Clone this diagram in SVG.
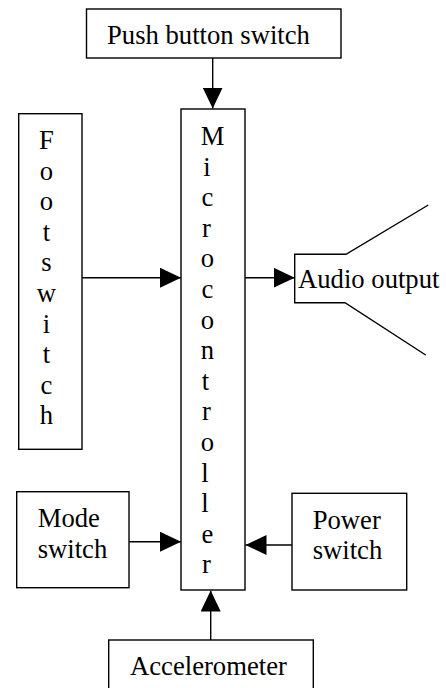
<svg xmlns="http://www.w3.org/2000/svg" width="446" height="688" viewBox="0 0 446 688">
<style>
.box{fill:#fff;stroke:#000;stroke-width:1.4}
.t{font-family:"Liberation Serif","Times New Roman",serif;font-size:26.67px;fill:#000}
.c{stroke:#000;stroke-width:1.4;fill:none}
</style>
<defs>
<marker id="ah" markerUnits="userSpaceOnUse" markerWidth="21" markerHeight="20" refX="21" refY="10" orient="auto">
<path d="M0,0 L21,10 L0,20 Z" fill="#000"/>
</marker>
</defs>
<rect width="446" height="688" fill="#fff"/>
<g id="push-button">
<rect class="box" x="86.5" y="9" width="254.5" height="49"/>
<text class="t" x="107" y="44">Push button switch</text>
</g>
<g id="foot-switch">
<rect class="box" x="18.7" y="113.7" width="63.3" height="335.6"/>
<text class="t" text-anchor="middle" x="46.5">
<tspan x="46.5" y="149">F</tspan><tspan x="46.5" y="179.6">o</tspan><tspan x="46.5" y="210.2">o</tspan><tspan x="46.5" y="240.8">t</tspan><tspan x="46.5" y="271.4">s</tspan><tspan x="46.5" y="302">w</tspan><tspan x="46.5" y="332.6">i</tspan><tspan x="46.5" y="363.2">t</tspan><tspan x="46.5" y="393.8">c</tspan><tspan x="46.5" y="424.4">h</tspan>
</text>
</g>
<g id="microcontroller">
<rect class="box" x="181" y="109" width="64" height="481"/>
<text class="t" text-anchor="middle">
<tspan x="212.5" y="145">M</tspan><tspan x="207" y="175.6">i</tspan><tspan x="207.5" y="206.2">c</tspan><tspan x="206.5" y="236.8">r</tspan><tspan x="207.5" y="267.4">o</tspan><tspan x="207.5" y="298">c</tspan><tspan x="207.5" y="328.6">o</tspan><tspan x="207.5" y="359.2">n</tspan><tspan x="205.5" y="389.8">t</tspan><tspan x="206.5" y="420.4">r</tspan><tspan x="207.5" y="451">o</tspan><tspan x="205" y="481.6">l</tspan><tspan x="205" y="512.2">l</tspan><tspan x="207.5" y="542.8">e</tspan><tspan x="206.5" y="573.4">r</tspan>
</text>
</g>
<g id="audio-output">
<path class="c" d="M428.3,205 L346,254.3 L294.7,254.3 L294.7,302.7 L345,302.7 L425.7,355"/>
<text class="t" x="298" y="288.3">Audio output</text>
</g>
<g id="mode-switch">
<rect class="box" x="16.7" y="491.7" width="112.3" height="96"/>
<text class="t"><tspan x="37.7" y="526.7">Mode</tspan><tspan x="37.7" y="557.7">switch</tspan></text>
</g>
<g id="power-switch">
<rect class="box" x="292" y="493.3" width="114.7" height="96.7"/>
<text class="t"><tspan x="312.7" y="529">Power</tspan><tspan x="312.7" y="559.3">switch</tspan></text>
</g>
<g id="accelerometer">
<rect class="box" x="108.7" y="640" width="204.6" height="60"/>
<text class="t" x="130" y="675">Accelerometer</text>
</g>
<g id="connectors">
<line class="c" x1="212.7" y1="58" x2="212.7" y2="108.5" marker-end="url(#ah)"/>
<line class="c" x1="82" y1="277.7" x2="181" y2="277.7" marker-end="url(#ah)"/>
<line class="c" x1="245" y1="277.7" x2="294.7" y2="277.7" marker-end="url(#ah)"/>
<line class="c" x1="129" y1="541.7" x2="181" y2="541.7" marker-end="url(#ah)"/>
<line class="c" x1="292" y1="545" x2="245.5" y2="545" marker-end="url(#ah)"/>
<line class="c" x1="210.7" y1="640" x2="210.7" y2="590.5" marker-end="url(#ah)"/>
</g>
</svg>
